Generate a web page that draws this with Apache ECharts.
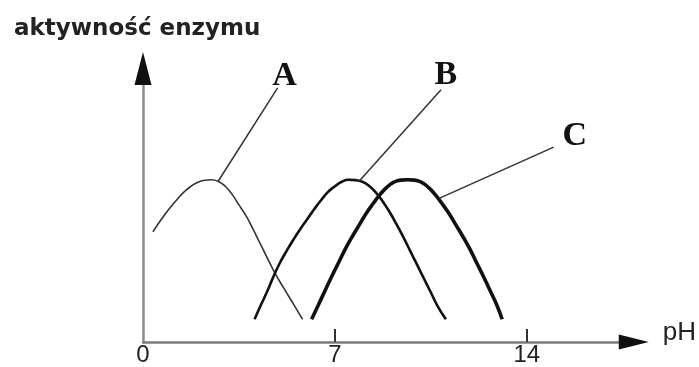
<!DOCTYPE html>
<html>
<head>
<meta charset="utf-8">
<script src="https://cdn.jsdelivr.net/npm/echarts@6/dist/echarts.min.js"></script>
<style>
html,body{margin:0;padding:0;background:#fff;}
#chart{width:699px;height:367px;}
</style>
</head>
<body>
<div id="chart"></div>
<script>
// Curve data: [pH, enzyme activity] (activity in arbitrary units, peak = 10)
const curveA = [[0.36,6.8],[0.75,7.75],[1.0,8.3],[1.25,8.8],[1.5,9.25],[1.75,9.6],[2.0,9.85],[2.25,9.97],[2.5,10.0],[2.75,9.9],[3.0,9.6],[3.25,9.1],[3.5,8.45],[3.75,7.8],[4.0,7.0],[4.25,6.15],[4.5,5.3],[4.75,4.45],[5.0,3.7],[5.25,3.0],[5.5,2.3],[5.82,1.4]];
const curveB = [[4.07,1.4],[4.25,2.1],[4.5,3.0],[4.75,4.0],[5.0,4.9],[5.25,5.65],[5.5,6.35],[5.75,7.0],[6.0,7.6],[6.25,8.2],[6.5,8.75],[6.75,9.25],[7.0,9.6],[7.25,9.88],[7.5,10.0],[7.75,9.98],[8.0,9.88],[8.25,9.62],[8.5,9.2],[8.75,8.65],[9.0,8.0],[9.25,7.25],[9.5,6.45],[9.75,5.6],[10.0,4.75],[10.25,3.9],[10.5,3.05],[10.75,2.2],[11.05,1.4]];
const curveC = [[6.15,1.4],[6.4,2.3],[6.65,3.2],[6.9,4.1],[7.15,4.95],[7.4,5.8],[7.65,6.55],[7.9,7.25],[8.15,7.95],[8.4,8.55],[8.65,9.1],[8.9,9.55],[9.15,9.85],[9.4,9.98],[9.65,10.0],[9.9,9.98],[10.15,9.85],[10.4,9.55],[10.65,9.1],[10.9,8.55],[11.15,7.95],[11.4,7.25],[11.65,6.55],[11.9,5.8],[12.15,4.95],[12.4,4.1],[12.65,3.2],[12.9,2.3],[13.1,1.4]];
const xTickLabels = [0, 7, 14];
const xTicks = [7, 14];
// Leader lines (from curve to label) and label positions, in data units
const leaderA = [[2.73,9.88],[4.91,15.67]];
const leaderB = [[7.89,9.92],[10.87,15.55]];
const leaderC = [[10.8,8.85],[14.98,12.01]];
const labelPos = {A:[5.16,16.4], B:[11.05,16.46], C:[15.75,12.68]};

const chart = echarts.init(document.getElementById('chart'));

function leader(pts) {
  return {
    silent: true,
    symbol: ['none','none'],
    lineStyle: {color:'#333', width:1.5, type:'solid'},
    label: {show:false},
    emphasis: {disabled:true},
    data: [[{coord: pts[0]}, {coord: pts[1]}]]
  };
}
function lbl(name) {
  return {
    symbol: 'circle', symbolSize: 0,
    label: {show:true, position:'inside', formatter: name, color:'#111',
      fontFamily:'Liberation Serif', fontWeight:'bold', fontSize:34},
    data: [{coord: labelPos[name], name: name}]
  };
}

const hidden = {axisTick:{show:false}, axisLabel:{show:false}, splitLine:{show:false}};

chart.setOption({
  animation: false,
  backgroundColor: '#fff',
  title: {
    text: 'aktywność enzymu', left: 9, top: 13,
    textStyle: {fontFamily:'DejaVu Sans', fontWeight:'bold', fontSize:23, color:'#222'}
  },
  grid: {left:143, right:64, top:68.5, bottom:22, containLabel:false},
  xAxis: [{
    type:'value', min:0, max:17.9,
    name:'pH', nameLocation:'end', nameGap:29,
    nameTextStyle:{fontFamily:'Liberation Sans', fontSize:26, color:'#222', verticalAlign:'bottom', padding:[0,0,-4,0]},
    axisLine:{show:true, onZero:true, lineStyle:{color:'#7a7a7a', width:2.5}},
    axisTick:{show:true, inside:true, length:13, customValues:xTicks, lineStyle:{color:'#333', width:2}},
    axisLabel:{show:true, customValues:xTickLabels, margin:1, fontFamily:'Liberation Sans', fontSize:24, color:'#222'},
    splitLine:{show:false}
  }, Object.assign({
    type:'value', min:0, max:17.9, position:'bottom',
    axisLine:{show:true, onZero:true, symbol:['none','triangle'], symbolSize:[15,30],
      lineStyle:{color:'#111', width:2.5, opacity:0}}
  }, hidden)],
  yAxis: [{
    type:'value', min:0, max:16.86,
    axisLine:{show:true, onZero:true, lineStyle:{color:'#8a8a8a', width:2.5}},
    axisTick:{show:false}, axisLabel:{show:false}, splitLine:{show:false}
  }, Object.assign({
    type:'value', min:0, max:16.86, position:'left',
    axisLine:{show:true, onZero:true, symbol:['none','triangle'], symbolSize:[17,33],
      lineStyle:{color:'#111', width:2.5, opacity:0}}
  }, hidden)],
  series: [
    {name:'A', type:'line', data:curveA, smooth:0.5, showSymbol:false, lineStyle:{color:'#333', width:1.6},
      markLine: leader(leaderA), markPoint: lbl('A')},
    {name:'B', type:'line', data:curveB, smooth:0.5, showSymbol:false, lineStyle:{color:'#111', width:2.6},
      markLine: leader(leaderB), markPoint: lbl('B')},
    {name:'C', type:'line', data:curveC, smooth:0.5, showSymbol:false, lineStyle:{color:'#111', width:3.6},
      markLine: leader(leaderC), markPoint: lbl('C')}
  ]
});
</script>
</body>
</html>
